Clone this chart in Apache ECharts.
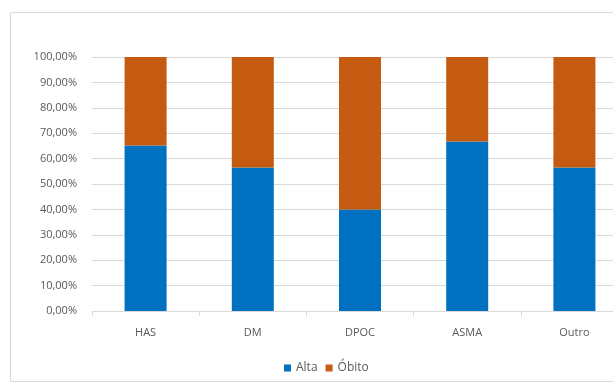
<!DOCTYPE html>
<html>
<head>
<meta charset="utf-8">
<script src="https://cdn.jsdelivr.net/npm/echarts@6/dist/echarts.min.js"></script>
<style>
  html, body { margin: 0; padding: 0; background: #fff; }
  #chart { width: 613px; height: 386px; }
</style>
</head>
<body>
<div id="chart"></div>
<script>
const categories = ['HAS', 'DM', 'DPOC', 'ASMA', 'Outro']
const alta = [65.2, 56.5, 40.0, 66.7, 56.5]
const obito = [34.8, 43.5, 60.0, 33.3, 43.5]
const seriesNames = ['Alta', 'Óbito']

const fmt = v => v.toFixed(2).replace('.', ',') + '%'

const myChart = echarts.init(document.getElementById('chart'))
myChart.setOption({
  animation: false,
  textStyle: {fontFamily: 'Open Sans'},
  graphic: [
    {
      type: 'rect',
      shape: {x: 10.5, y: 12.5, width: 620, height: 369},
      style: {fill: 'none', stroke: '#d9d9d9', lineWidth: 1}
    }
  ],
  legend: {
    data: seriesNames,
    bottom: 7,
    left: 279,
    itemWidth: 7,
    itemHeight: 7,
    itemGap: 8,
    icon: 'rect',
    textStyle: {color: '#595959', fontSize: 12}
  },
  grid: {
    left: 92,
    width: 536,
    top: 57,
    bottom: 75,
    outerBoundsMode: 'none',
    containLabel: false
  },
  xAxis: {
    type: 'category',
    data: categories,
    axisLine: {lineStyle: {color: '#d9d9d9'}},
    axisTick: {show: true, length: 5, lineStyle: {color: '#d9d9d9'}},
    axisLabel: {color: '#595959', fontSize: 11, margin: 16}
  },
  yAxis: {
    type: 'value',
    min: 0,
    max: 100,
    interval: 10,
    axisLine: {show: false},
    axisTick: {show: false},
    axisLabel: {color: '#595959', fontSize: 11, margin: 15, formatter: fmt},
    splitLine: {lineStyle: {color: '#d9d9d9'}}
  },
  series: [
    {
      name: seriesNames[0],
      type: 'bar',
      stack: 'total',
      barWidth: 42,
      itemStyle: {color: '#0070C0'},
      data: alta
    },
    {
      name: seriesNames[1],
      type: 'bar',
      stack: 'total',
      barWidth: 42,
      itemStyle: {color: '#C55A11'},
      data: obito
    }
  ]
})
</script>
</body>
</html>
